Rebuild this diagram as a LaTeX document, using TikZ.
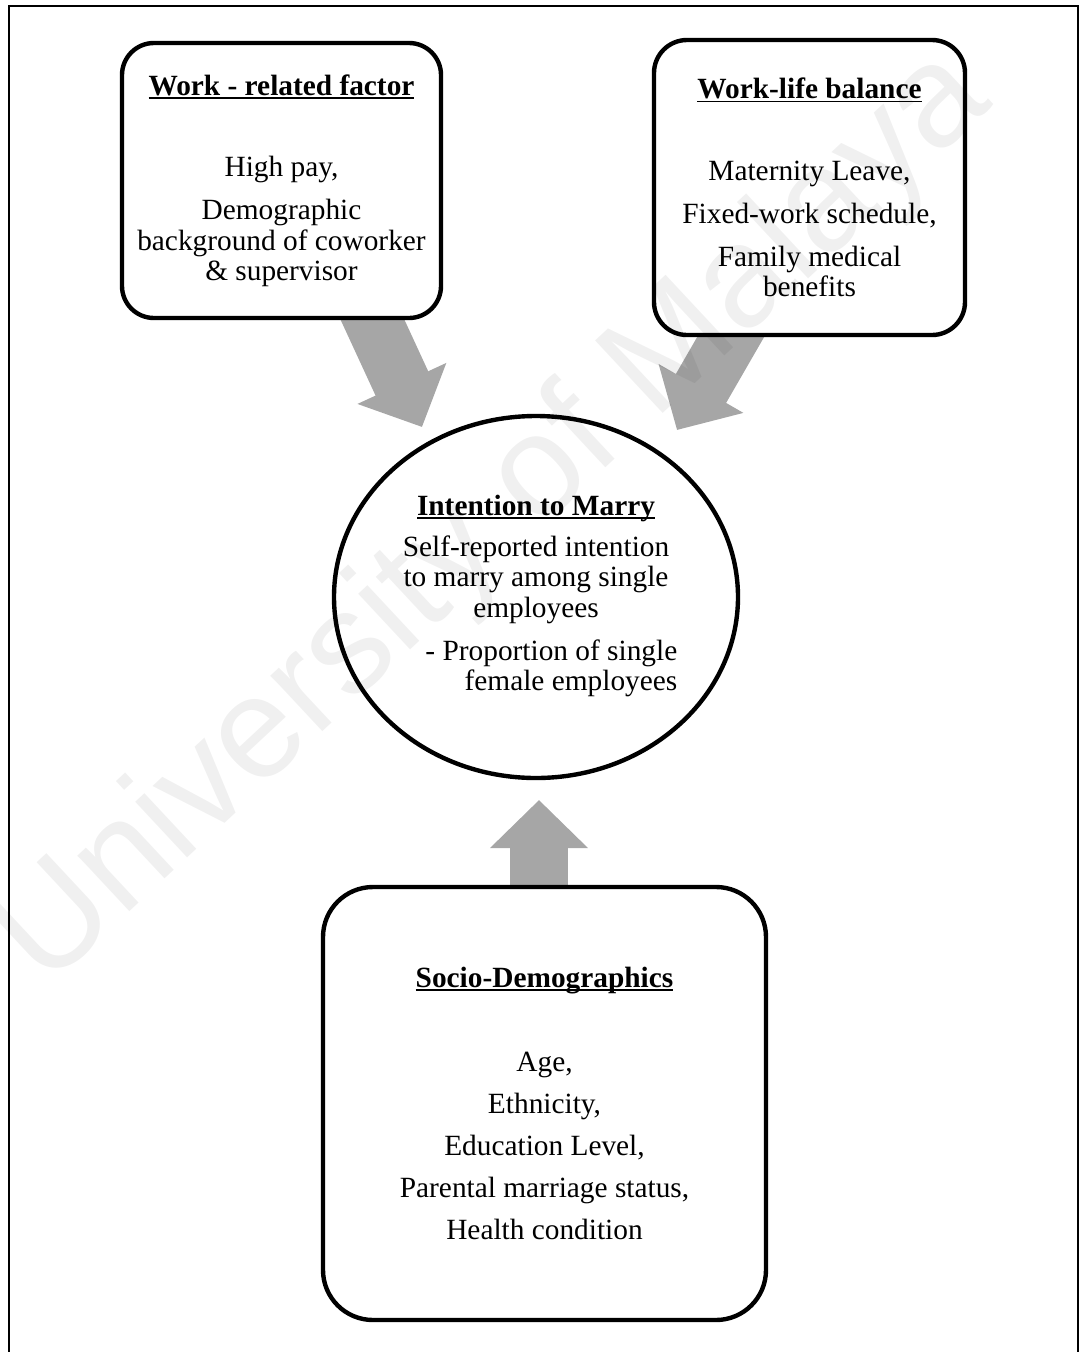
\documentclass[tikz,border=0pt]{standalone}
\usepackage{fontspec}
\setmainfont{Liberation Serif}
\newfontfamily\wmfont{Liberation Sans}
\usepackage{tikz}
\usetikzlibrary{calc,positioning,shapes.geometric,arrows.meta,backgrounds}
\definecolor{arrowgray}{HTML}{A6A6A6}
\newcommand{\headline}[1]{\textbf{\setbox0\hbox{#1}\rlap{\rule[-0.12em]{\wd0}{0.06em}}\box0}}
\tikzstyle{factor}   = [draw=black, line width=2.5pt, fill=white, rounded corners=0.64cm, align=center, inner sep=0pt, font=\fontsize{16.7}{17.3}\selectfont]
\tikzstyle{bubble}   = [ellipse, draw=black, line width=2.5pt, fill=white, inner sep=0pt, font=\fontsize{16.7}{17.3}\selectfont]
\tikzstyle{bigarrow} = [line width=1.16cm, draw=arrowgray, -{Triangle[length=0.96cm,width=1.9cm]}]

\begin{document}
\begin{tikzpicture}
        \useasboundingbox (0,0) rectangle (21.64,-27.04);
        \draw[line width=1.2pt] (0.18,-27.5) -- (0.18,-0.12) -- (21.56,-0.12) -- (21.56,-27.5);

        \node[factor, minimum width=6.38cm, minimum height=5.5cm] (work) at (5.63,-3.61) {\headline{Work - related factor}\\[29.2pt]
            High pay,\\[7.1pt] Demographic\\ background of coworker\\ \& supervisor};
        \node[factor, minimum width=6.22cm, minimum height=5.9cm, rounded corners=0.66cm] (wlb) at (16.19,-3.75) {\headline{Work-life balance}\\[29.2pt]
            Maternity Leave,\\[7pt] Fixed-work schedule,\\[7pt] Family medical\\ benefits};
        \node[bubble, minimum width=8.08cm, minimum height=7.24cm] (marry) at (10.72,-11.94) {%
            \begin{tabular}{@{}c@{}}
            \headline{Intention to Marry}\\[5.9pt]
            Self-reported intention\\
            to marry among single\\
            employees\\[7.1pt]
            \multicolumn{1}{@{}r@{}}{- Proportion of single\hspace*{-4.6pt}}\\
            \multicolumn{1}{@{}r@{}}{female employees\hspace*{-4.6pt}}
            \end{tabular}};
        \node[factor, minimum width=8.86cm, minimum height=8.66cm, rounded corners=1cm] (socio) at (10.89,-22.07) {\headline{Socio-Demographics}\\[30.3pt]
            Age,\\[6.7pt] Ethnicity,\\[6.7pt] Education Level,\\[6.7pt] Parental marriage status,\\[6.7pt] Health condition};

        \coordinate (tipwork) at ($(marry)+(-2.28,3.4)$);
        \coordinate (tipwlb) at ($(marry)+(2.82,3.34)$);
        \coordinate (tipsocio) at ($(marry)+(0.06,-4.06)$);

        \begin{scope}[on background layer]
            \draw[bigarrow] ($(tipwork)+(-1.26,2.73)$) -- (tipwork);
            \draw[bigarrow] ($(tipwlb)+(1.5,2.6)$) -- (tipwlb);
            \draw[bigarrow] ($(tipsocio |- socio.north)+(0,-0.3)$) -- (tipsocio);
        \end{scope}

        \node[rotate=43, opacity=0.06, font=\wmfont\fontsize{82}{82}\selectfont] (watermark) at (9.9,-10.4) {University of Malaya};
    \end{tikzpicture}
\end{document}
